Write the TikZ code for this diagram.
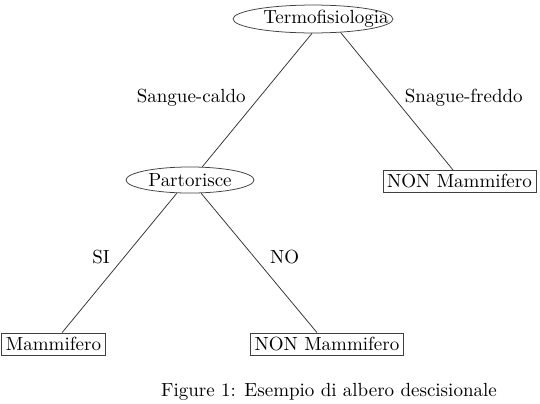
\documentclass[tikz,border=0pt]{standalone}
\usepackage{tikz}
\usetikzlibrary{shapes.geometric, positioning}

\begin{document}
\begin{tikzpicture}[
  x=0.5263pt, y=-0.5263pt,
  test/.style={ellipse, draw=black!75, inner sep=0pt, minimum height=14.7pt},
  leaf/.style={rectangle, draw=black!75, inner sep=2.2pt},
  branch/.style={draw=black!80}
]
\useasboundingbox (0,0) rectangle (540,403);

% decision nodes
\node[test, minimum width=84.2pt,
      label={[xshift=6.8pt]center:Termofisiologia}] (root) at (313,19) {};
\node[test, minimum width=67.4pt, minimum height=13.7pt] (part) at (190,180) {Partorisce};

% leaves
\node[leaf] (nonA) at (459.5,181.5) {NON Mammifero};
\node[leaf] (mam) at (53.5,344) {Mammifero};
\node[leaf] (nonB) at (327,344) {NON Mammifero};

% branches
\draw[branch] (root.-94) -- node[pos=0.485, left=3.4pt] {Sangue-caldo} (part.47);
\draw[branch] (root.-26) -- node[pos=0.475, right=2.2pt] {Snague-freddo} ([xshift=-3.4pt]nonA.north);
\draw[branch] (part.-135) -- node[pos=0.46, left=4pt] {SI} ([xshift=4.5pt]mam.north);
\draw[branch] (part.-50) -- node[pos=0.46, right=4.8pt] {NO} ([xshift=-5.3pt]nonB.north);

\node (caption) at (329,392) {Figure 1: Esempio di albero descisionale};

\end{tikzpicture}
\end{document}
